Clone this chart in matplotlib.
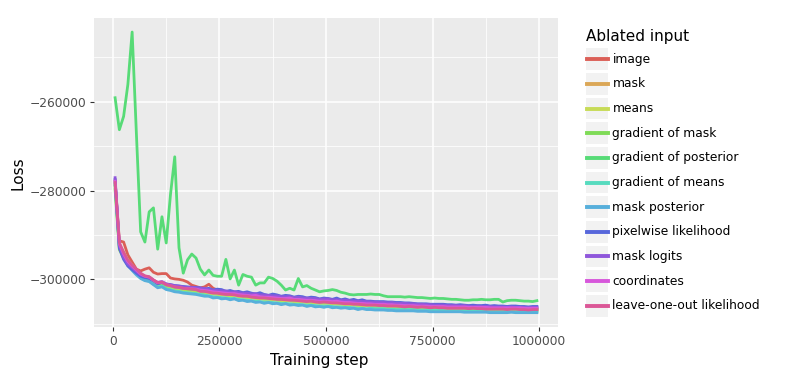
import matplotlib
matplotlib.use('Agg')
import matplotlib.pyplot as plt
from matplotlib.ticker import FuncFormatter
from matplotlib.patches import Rectangle
from matplotlib.lines import Line2D
import seaborn as sns

steps = list(range(5000, 1000000, 10000))

image = [
    -277800, -291300, -291600, -294500, -296100, -297700, -298100, -297700, -297400, -298400,
    -298800, -298700, -298700, -299700, -299900, -300000, -300200, -300600, -301300, -301600,
    -301900, -301700, -301100, -302000, -302400, -302700, -302900, -303200, -303300, -303600,
    -303700, -303700, -303900, -304000, -304100, -304200, -304200, -304300, -304400, -304500,
    -304500, -304600, -304700, -304700, -304800, -304900, -304900, -305000, -305100, -305100,
    -305100, -305200, -305300, -305300, -305400, -305400, -305500, -305600, -305600, -305700,
    -305700, -305800, -305800, -305800, -305900, -305900, -306000, -306000, -306100, -306100,
    -306100, -306200, -306200, -306200, -306300, -306300, -306300, -306300, -306400, -306400,
    -306400, -306500, -306400, -306500, -306600, -306500, -306600, -306600, -306600, -306700,
    -306600, -306700, -306700, -306600, -306700, -306700, -306800, -306700, -306700, -306700]

mask = [
    -278600, -292300, -293800, -295600, -296800, -297900, -298900, -299400, -299600, -300400,
    -301000, -300900, -301500, -301700, -302000, -302100, -302300, -302400, -302500, -302600,
    -302800, -302900, -303000, -303200, -303300, -303400, -303500, -303600, -303600, -303800,
    -303900, -304000, -304100, -304200, -304300, -304400, -304400, -304500, -304600, -304700,
    -304700, -304800, -304900, -304900, -305000, -305100, -305100, -305200, -305300, -305300,
    -305300, -305400, -305500, -305500, -305600, -305600, -305700, -305800, -305800, -305900,
    -305900, -306000, -306000, -306000, -306100, -306100, -306200, -306200, -306300, -306300,
    -306300, -306400, -306400, -306400, -306500, -306500, -306500, -306500, -306600, -306600,
    -306600, -306600, -306600, -306700, -306700, -306700, -306700, -306700, -306800, -306800,
    -306800, -306800, -306800, -306800, -306800, -306800, -306900, -306900, -306900, -306900]

means = [
    -279000, -292900, -294600, -296200, -297300, -298300, -299100, -299700, -299900, -300600,
    -301200, -301000, -301600, -301800, -302100, -302200, -302400, -302500, -302600, -302700,
    -302900, -303000, -303100, -303300, -303400, -303500, -303600, -303700, -303700, -303900,
    -304000, -304100, -304200, -304300, -304400, -304500, -304500, -304600, -304700, -304800,
    -304800, -304900, -305000, -305000, -305100, -305200, -305200, -305300, -305400, -305400,
    -305400, -305500, -305600, -305600, -305700, -305700, -305800, -305900, -305900, -306000,
    -306000, -306100, -306100, -306100, -306200, -306200, -306300, -306300, -306400, -306400,
    -306400, -306500, -306500, -306500, -306600, -306600, -306600, -306600, -306700, -306700,
    -306700, -306700, -306700, -306800, -306800, -306800, -306800, -306800, -306900, -306900,
    -306900, -306900, -306900, -306900, -306900, -306900, -307000, -307000, -307000, -307000]

grad_mask = [
    -279800, -293300, -295200, -296600, -297500, -298300, -299100, -299500, -299500, -300300,
    -300900, -300800, -301300, -301500, -301800, -301900, -302100, -302200, -302300, -302400,
    -302600, -302700, -302800, -303000, -303100, -303200, -303300, -303400, -303400, -303600,
    -303700, -303800, -303900, -304000, -304100, -304200, -304200, -304300, -304400, -304500,
    -304500, -304600, -304700, -304700, -304800, -304900, -304900, -305000, -305100, -305100,
    -305100, -305200, -305300, -305300, -305400, -305400, -305500, -305600, -305600, -305700,
    -305700, -305800, -305800, -305800, -305900, -305900, -306000, -306000, -306100, -306100,
    -306100, -306200, -306200, -306200, -306300, -306300, -306300, -306300, -306400, -306400,
    -306400, -306400, -306400, -306500, -306500, -306500, -306500, -306500, -306600, -306600,
    -306600, -306600, -306600, -306600, -306600, -306600, -306700, -306700, -306700, -306700]

grad_posterior = [
    -259100, -266300, -263300, -256100, -244300, -267200, -289300, -291600, -284800, -283900,
    -293200, -285900, -291800, -280900, -272400, -292900, -298600, -295600, -294300, -295200,
    -297700, -299000, -297900, -299100, -299300, -299300, -295500, -299900, -297900, -301300,
    -298900, -299300, -299500, -301300, -300800, -300800, -299500, -299800, -300400, -301300,
    -302400, -302000, -302400, -299800, -301700, -301400, -302000, -302400, -302800, -302600,
    -302500, -302300, -302500, -302900, -303100, -303400, -303500, -303400, -303400, -303400,
    -303300, -303400, -303400, -303700, -303900, -303900, -303900, -303900, -304000, -303900,
    -304000, -304100, -304100, -304200, -304300, -304200, -304300, -304300, -304400, -304500,
    -304500, -304600, -304700, -304700, -304600, -304600, -304500, -304600, -304600, -304500,
    -304500, -305100, -304800, -304700, -304700, -304800, -304900, -304900, -305000, -304800]

grad_means = [
    -278900, -292600, -295000, -296800, -297800, -298800, -299700, -300200, -300400, -301100,
    -301700, -301500, -302100, -302300, -302600, -302700, -302900, -303000, -303100, -303200,
    -303400, -303500, -303700, -303900, -304000, -304100, -304200, -304300, -304300, -304500,
    -304600, -304700, -304800, -304900, -305000, -305100, -305100, -305200, -305300, -305400,
    -305400, -305500, -305600, -305600, -305700, -305800, -305800, -305900, -306000, -306000,
    -306000, -306100, -306200, -306200, -306300, -306300, -306400, -306500, -306500, -306600,
    -306500, -306600, -306600, -306600, -306700, -306700, -306800, -306800, -306800, -306800,
    -306800, -306900, -306900, -306900, -307000, -307000, -307000, -307000, -307100, -307100,
    -307100, -307100, -307100, -307200, -307200, -307200, -307200, -307200, -307300, -307300,
    -307300, -307300, -307300, -307300, -307300, -307300, -307300, -307400, -307300, -307300]

mask_posterior = [
    -278400, -292800, -295000, -296900, -298000, -299000, -299800, -300300, -300500, -301200,
    -301900, -301700, -302300, -302500, -302800, -302900, -303100, -303200, -303300, -303400,
    -303600, -303800, -303800, -304200, -304100, -304400, -304300, -304600, -304400, -304800,
    -304700, -305000, -304900, -305200, -305100, -305400, -305200, -305500, -305400, -305700,
    -305500, -305800, -305700, -305900, -305800, -306100, -305900, -306200, -306100, -306300,
    -306100, -306400, -306300, -306500, -306400, -306600, -306500, -306800, -306600, -306800,
    -306800, -306900, -306900, -306900, -307000, -307000, -307100, -307100, -307100, -307100,
    -307100, -307200, -307200, -307200, -307300, -307300, -307300, -307300, -307300, -307300,
    -307300, -307300, -307400, -307400, -307400, -307400, -307400, -307400, -307500, -307500,
    -307500, -307500, -307500, -307400, -307500, -307500, -307500, -307500, -307500, -307500]

pixelwise = [
    -277500, -293000, -295500, -297000, -297800, -298600, -299300, -299600, -299800, -300300,
    -301000, -300700, -301100, -301200, -301400, -301500, -301600, -301700, -301800, -301800,
    -301900, -302200, -302000, -302400, -302200, -302300, -302700, -302500, -302800, -302700,
    -303000, -302800, -303100, -303300, -303000, -303400, -303600, -303300, -303500, -303800,
    -303600, -303700, -304000, -303800, -303900, -304200, -304000, -304100, -304400, -304200,
    -304300, -304500, -304200, -304600, -304400, -304700, -304500, -304800, -304600, -304900,
    -304900, -305000, -305000, -305000, -305100, -305100, -305200, -305200, -305300, -305300,
    -305400, -305500, -305500, -305500, -305600, -305600, -305600, -305600, -305700, -305700,
    -305800, -305700, -305800, -305900, -305800, -305900, -305900, -305800, -306000, -305900,
    -306000, -306000, -306100, -306000, -306000, -306100, -306100, -306200, -306100, -306100]

mask_logits = [
    -277100, -292400, -295000, -296600, -297400, -298200, -299000, -299300, -299500, -300200,
    -300700, -300500, -301000, -301200, -301400, -301500, -301700, -301800, -301800, -301900,
    -302000, -302000, -302300, -302400, -302500, -302600, -302600, -302900, -302800, -303000,
    -303100, -303100, -303300, -303200, -303500, -303500, -303600, -303700, -303700, -303900,
    -303900, -303900, -304100, -304000, -304200, -304200, -304300, -304300, -304500, -304400,
    -304400, -304600, -304600, -304700, -304700, -304800, -304900, -304900, -305000, -305000,
    -305100, -305100, -305200, -305200, -305300, -305200, -305400, -305400, -305400, -305500,
    -305500, -305600, -305600, -305700, -305700, -305800, -305800, -305800, -305900, -305900,
    -305900, -306000, -305900, -306000, -306100, -306000, -306100, -306100, -306100, -306200,
    -306200, -306200, -306300, -306200, -306300, -306300, -306300, -306400, -306300, -306300]

coordinates = [
    -277900, -292000, -294300, -296000, -297000, -297900, -298800, -299300, -299500, -300200,
    -300800, -300600, -301200, -301400, -301700, -301800, -302000, -302100, -302100, -302200,
    -302400, -302500, -302600, -302800, -302900, -303000, -303100, -303200, -303200, -303400,
    -303500, -303600, -303700, -303600, -303900, -304000, -304000, -304100, -304200, -304300,
    -304300, -304200, -304500, -304500, -304600, -304700, -304700, -304800, -304900, -304900,
    -304900, -305000, -304900, -305100, -305200, -305200, -305300, -305400, -305400, -305500,
    -305500, -305600, -305600, -305600, -305700, -305700, -305800, -305800, -305900, -305900,
    -305900, -306000, -306000, -306000, -306100, -306100, -306100, -306100, -306200, -306200,
    -306200, -306200, -306200, -306300, -306300, -306300, -306300, -306300, -306400, -306400,
    -306400, -306400, -306400, -306400, -306400, -306400, -306500, -306500, -306500, -306500]

leave_one_out = [
    -278200, -291700, -293900, -295700, -296800, -297700, -298600, -299200, -299400, -300100,
    -300700, -300600, -301200, -301400, -301700, -301800, -302000, -302100, -302200, -302300,
    -302700, -302700, -302900, -303100, -303100, -303300, -303400, -303400, -303500, -303700,
    -303800, -303800, -304000, -304100, -304200, -304200, -304300, -304400, -304500, -304500,
    -304600, -304700, -304700, -304800, -304900, -305000, -304900, -305100, -305200, -305100,
    -305200, -305300, -305300, -305400, -305500, -305500, -305600, -305600, -305700, -305800,
    -305800, -305800, -305900, -305900, -306000, -306000, -306000, -306100, -306200, -306100,
    -306200, -306300, -306200, -306300, -306400, -306300, -306400, -306400, -306500, -306500,
    -306500, -306500, -306500, -306600, -306500, -306600, -306600, -306700, -306700, -306700,
    -306700, -306700, -306800, -306700, -306700, -306800, -306800, -306900, -306800, -306800]

labels = ['image', 'mask', 'means', 'gradient of mask', 'gradient of posterior',
          'gradient of means', 'mask posterior', 'pixelwise likelihood', 'mask logits',
          'coordinates', 'leave-one-out likelihood']
series = [image, mask, means, grad_mask, grad_posterior, grad_means, mask_posterior,
          pixelwise, mask_logits, coordinates, leave_one_out]

colors = sns.hls_palette(len(labels), h=0.01, l=0.6, s=0.65)

fig = plt.figure(figsize=(7.86, 3.79), dpi=100)
ax = fig.add_axes([94 / 786, 1 - 326.7 / 379, 464 / 786, 308.7 / 379])
ax.set_facecolor('#EBEBEB')
for s in ax.spines.values():
    s.set_visible(False)

for vals, col in zip(series, colors):
    ax.plot(steps, vals, color=col, lw=2.0, solid_joinstyle='round')

ax.margins(x=0.05, y=0.05)
ax.set_xticks([0, 250000, 500000, 750000, 1000000])
ax.set_xticks([125000, 375000, 625000, 875000], minor=True)
ax.set_yticks([-300000, -280000, -260000])
ax.set_yticks([-310000, -290000, -270000, -250000], minor=True)
fmt = FuncFormatter(lambda v, p: f'{v:.0f}'.replace('-', '\u2212'))
ax.xaxis.set_major_formatter(fmt)
ax.yaxis.set_major_formatter(fmt)
ax.grid(which='major', color='white', lw=1.1)
ax.grid(which='minor', color='white', lw=0.55)
ax.set_axisbelow(True)
ax.tick_params(which='major', length=3.2, width=0.8, color='#333333',
               labelsize=8.8, labelcolor='#4D4D4D', pad=2.5)
ax.tick_params(which='minor', length=0)

fig.text(319 / 786, 1 - 360 / 379, 'Training step', fontsize=11, ha='center', va='center')
fig.text(18 / 786, 1 - 173 / 379, 'Loss', fontsize=11, rotation=90, ha='center', va='center')

# legend drawn by hand, ggplot style
fig.text(586 / 786, 1 - 37 / 379, 'Ablated input', fontsize=11, ha='left', va='center')
for k, (lab, col) in enumerate(zip(labels, colors)):
    yc = 59.2 + k * 24.66
    fig.patches.append(Rectangle((586 / 786, 1 - (yc + 10.8) / 379), 22.3 / 786, 21.6 / 379,
                                 transform=fig.transFigure, facecolor='#F2F2F2', edgecolor='none'))
    fig.lines.append(Line2D([587 / 786, 607.5 / 786], [1 - yc / 379, 1 - yc / 379],
                            transform=fig.transFigure, color=col, lw=2.8))
    fig.text(612.5 / 786, 1 - yc / 379, lab, fontsize=8.8, ha='left', va='center')

fig.savefig('out.png', dpi=100)
